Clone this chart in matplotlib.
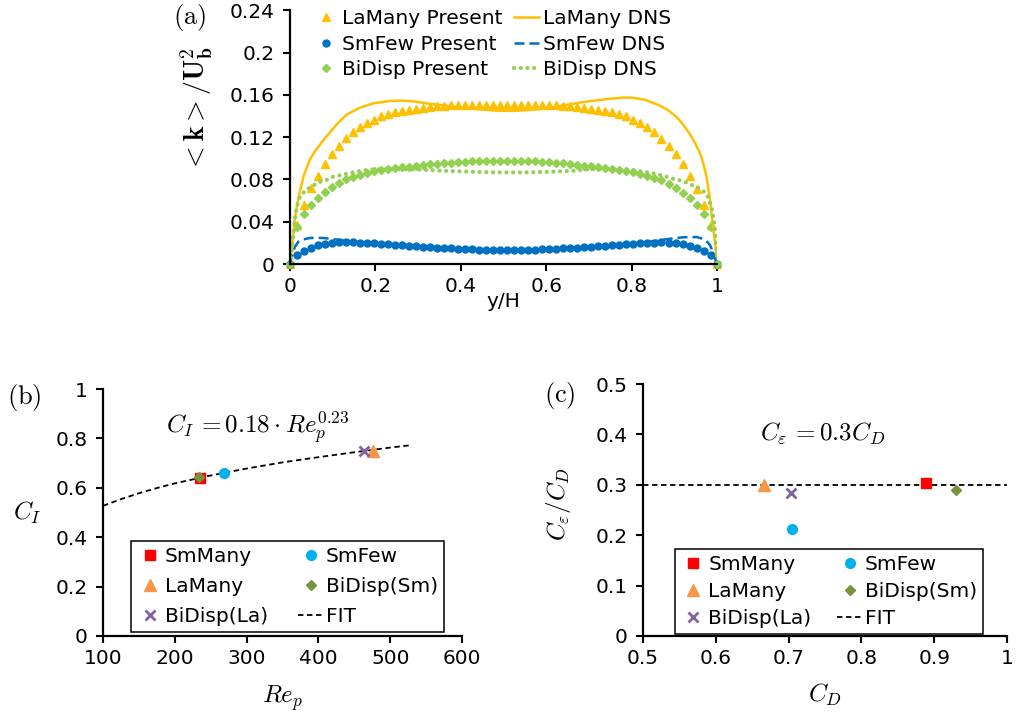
import numpy as np
import matplotlib
matplotlib.use('Agg')
import matplotlib.pyplot as plt
from matplotlib.ticker import FuncFormatter

plt.rcParams['font.family'] = ['DejaVu Sans']
plt.rcParams['mathtext.fontset'] = 'cm'
plt.rcParams['font.size'] = 14.5

# ---- (a) profiles of <k>/Ub^2 across the channel ----
# present model: wall points plus 60 interior cells
yh_present = np.concatenate(([0.0], np.linspace(0.0156, 0.9844, 60), [1.0]))
k_lamany = [0,
            0.037, 0.056, 0.0715, 0.0835, 0.0945, 0.104, 0.1118, 0.1188, 0.1245, 0.1292,
            0.1336, 0.1367, 0.1399, 0.1424, 0.144, 0.1452, 0.146, 0.1471, 0.148, 0.149,
            0.1495, 0.1498, 0.15, 0.15, 0.15, 0.15, 0.15, 0.15, 0.15, 0.15,
            0.15, 0.15, 0.15, 0.15, 0.15, 0.15, 0.15, 0.15, 0.1498, 0.1495,
            0.149, 0.148, 0.1471, 0.146, 0.1452, 0.1437, 0.1415, 0.1396, 0.1367, 0.1336,
            0.1295, 0.1245, 0.1185, 0.1118, 0.104, 0.0945, 0.083, 0.0712, 0.0563, 0.037,
            0]
k_smfew = [0,
           0.009, 0.0125, 0.0155, 0.0178, 0.0193, 0.0202, 0.0207, 0.0208, 0.0206, 0.0203,
           0.0199, 0.0195, 0.019, 0.0186, 0.0181, 0.0176, 0.0172, 0.0168, 0.0164, 0.016,
           0.0156, 0.0152, 0.0148, 0.0145, 0.0142, 0.0139, 0.0136, 0.0134, 0.0133, 0.0132,
           0.0132, 0.0132, 0.0133, 0.0134, 0.0136, 0.0139, 0.0142, 0.0145, 0.0148, 0.0152,
           0.0156, 0.016, 0.0165, 0.017, 0.0175, 0.018, 0.0183, 0.0186, 0.0192, 0.0195,
           0.0198, 0.0202, 0.0205, 0.0202, 0.0195, 0.0186, 0.017, 0.0148, 0.012, 0.0082,
           0]
k_bidisp = [0,
            0.0353, 0.047, 0.0558, 0.0627, 0.0684, 0.0731, 0.0762, 0.080, 0.0819, 0.0844,
            0.086, 0.0879, 0.0888, 0.0901, 0.0908, 0.0914, 0.0922, 0.093, 0.0938, 0.0945,
            0.095, 0.0955, 0.096, 0.0964, 0.0967, 0.097, 0.0972, 0.0975, 0.0976, 0.0977,
            0.0977, 0.0977, 0.0976, 0.0974, 0.0971, 0.0967, 0.0964, 0.0958, 0.0952, 0.0945,
            0.0939, 0.0932, 0.0926, 0.0917, 0.0907, 0.090, 0.0893, 0.0882, 0.0873, 0.085,
            0.0835, 0.0816, 0.0794, 0.0758, 0.0721, 0.0674, 0.0627, 0.0554, 0.047, 0.0353,
            0]

# DNS reference curves
yh_dns_la = [0, 0.003, 0.006, 0.012, 0.02, 0.031, 0.039, 0.047, 0.054, 0.062,
             0.074, 0.086, 0.109, 0.133, 0.164, 0.195, 0.234, 0.26, 0.29, 0.32,
             0.36, 0.40, 0.44, 0.48, 0.52, 0.56, 0.60, 0.64, 0.69, 0.74,
             0.78, 0.80, 0.83, 0.865, 0.885, 0.905, 0.92, 0.935, 0.948, 0.96,
             0.968, 0.975, 0.983, 0.991, 0.997, 1.0]
k_dns_la = [0, 0.010, 0.022, 0.045, 0.063, 0.082, 0.091, 0.099, 0.104, 0.1085,
            0.115, 0.121, 0.132, 0.1415, 0.148, 0.152, 0.1543, 0.1546, 0.1538, 0.152,
            0.150, 0.148, 0.1465, 0.1452, 0.1448, 0.1458, 0.1472, 0.1502, 0.1534, 0.156,
            0.1575, 0.1574, 0.1555, 0.150, 0.1455, 0.139, 0.132, 0.1235, 0.1145, 0.1046,
            0.094, 0.0825, 0.0605, 0.032, 0.013, 0]
yh_dns_sm = [0, 0.004, 0.0117, 0.0195, 0.031, 0.047, 0.062, 0.078, 0.10, 0.13,
             0.17, 0.22, 0.30, 0.40, 0.50, 0.60, 0.70, 0.78, 0.83, 0.858,
             0.889, 0.92, 0.952, 0.971, 0.983, 0.991, 0.997, 1.0]
k_dns_sm = [0, 0.0069, 0.0164, 0.021, 0.0233, 0.0246, 0.0249, 0.0246, 0.0236, 0.0221,
            0.0205, 0.019, 0.0165, 0.014, 0.013, 0.0135, 0.0155, 0.018, 0.0205, 0.022,
            0.0239, 0.0253, 0.0255, 0.0233, 0.018, 0.0101, 0.0025, 0]
yh_dns_bi = [0, 0.004, 0.008, 0.0117, 0.0156, 0.0234, 0.037, 0.052, 0.068, 0.085,
             0.10, 0.12, 0.136, 0.154, 0.171, 0.19, 0.21, 0.25, 0.30, 0.36,
             0.43, 0.50, 0.55, 0.605, 0.66, 0.706, 0.753, 0.80, 0.84, 0.875,
             0.893, 0.911, 0.929, 0.946, 0.961, 0.975, 0.981, 0.987, 0.99, 0.993,
             0.995, 0.997, 0.998, 1.0]
k_dns_bi = [0, 0.012, 0.028, 0.043, 0.054, 0.0636, 0.070, 0.0737, 0.0775, 0.0794,
            0.0825, 0.0841, 0.0857, 0.0872, 0.0886, 0.0893, 0.0897, 0.0898, 0.0894, 0.0882,
            0.0872, 0.0866, 0.0867, 0.0872, 0.0882, 0.0898, 0.0905, 0.089, 0.0865, 0.0835,
            0.081, 0.0794, 0.0769, 0.0737, 0.0712, 0.0662, 0.0605, 0.0526, 0.0454, 0.0384,
            0.0306, 0.0227, 0.0164, 0]

# ---- (b), (c) coefficients per case ----
cases = ['SmMany', 'SmFew', 'LaMany', 'BiDisp(Sm)', 'BiDisp(La)']
re_p = [235, 268, 476, 233, 463]
c_i = [0.638, 0.661, 0.748, 0.642, 0.750]
c_d = [0.889, 0.705, 0.666, 0.93, 0.703]
ce_over_cd = [0.303, 0.213, 0.30, 0.29, 0.284]

fit_re = [100, 125, 150, 175, 200, 250, 300, 350, 400, 450, 500, 530]
fit_ci = [0.527, 0.554, 0.578, 0.599, 0.618, 0.650, 0.678, 0.703, 0.724, 0.744, 0.763, 0.773]
fit_cd = [0.5, 1.0]
fit_ratio = [0.3, 0.3]

YELLOW, BLUE, GREEN = '#FFC000', '#0070C0', '#92D050'
case_style = {
    'SmMany': dict(marker='s', color='#FF0000', ms=7),
    'SmFew': dict(marker='o', color='#00B0F0', ms=7),
    'LaMany': dict(marker='^', color='#F79646', ms=8),
    'BiDisp(Sm)': dict(marker='D', color='#77933C', ms=5.5),
    'BiDisp(La)': dict(marker='x', color='#8064A2', ms=7, mew=2),
}

fmt = FuncFormatter(lambda v, p: '%g' % v)


def style(ax):
    for s in ['top', 'right']:
        ax.spines[s].set_visible(False)
    for s in ['left', 'bottom']:
        ax.spines[s].set_linewidth(1.6)
    ax.tick_params(direction='out', length=5, width=1.5, labelsize=14.5)
    ax.tick_params(axis='x', pad=4.5)
    ax.tick_params(axis='y', pad=6)
    ax.xaxis.set_major_formatter(fmt)
    ax.yaxis.set_major_formatter(fmt)


fig = plt.figure(figsize=(10.2, 7.13), dpi=100)

# panel (a)
ax = fig.add_axes([0.2843, 0.6297, 0.4189, 0.3558])
style(ax)
h1, = ax.plot(yh_present, k_lamany, '^', color=YELLOW, ms=6, clip_on=False)
h2, = ax.plot(yh_present, k_smfew, 'o', color=BLUE, ms=5, clip_on=False)
h3, = ax.plot(yh_present, k_bidisp, 'D', color=GREEN, ms=4.5, clip_on=False)
h4, = ax.plot(yh_dns_la, k_dns_la, '-', color=YELLOW, lw=1.8)
h5, = ax.plot(yh_dns_sm, k_dns_sm, color=BLUE, lw=1.8, ls=(0, (4, 2)))
h6, = ax.plot(yh_dns_bi, k_dns_bi, color=GREEN, lw=3, ls=(0, (0.01, 1.6)),
              dash_capstyle='round')
ax.set_xlim(0, 1)
ax.set_ylim(0, 0.24)
ax.set_xticks([0, 0.2, 0.4, 0.6, 0.8, 1])
ax.set_yticks([0, 0.04, 0.08, 0.12, 0.16, 0.2, 0.24])
ax.set_xlabel('y/H', fontsize=14.5, labelpad=-3)
ax.set_ylabel(r'$<\mathbf{k}>/\mathbf{U_b^2}$', fontsize=20)
ax.yaxis.set_label_coords(-0.175, 0.61)
ax.legend([h1, h2, h3, h4, h5, h6],
          ['LaMany Present', 'SmFew Present', 'BiDisp Present',
           'LaMany DNS', 'SmFew DNS', 'BiDisp DNS'],
          ncol=2, loc='upper left', bbox_to_anchor=(0.3074, 0.987),
          bbox_transform=fig.transFigure, frameon=False, fontsize=14.5,
          handlelength=1.25, handletextpad=0.15, columnspacing=0.6,
          labelspacing=0.32, borderpad=0, borderaxespad=0)
fig.text(0.186, 0.976, r'$\mathrm{(a)}$', fontsize=19, ha='center', va='center')


def coef_legend(ax, anchor, fit_handle, colsp, rowsp):
    hs = {}
    for name in cases:
        hs[name], = ax.plot([], [], ls='none', **case_style[name])
    order = ['SmMany', 'LaMany', 'BiDisp(La)', 'SmFew', 'BiDisp(Sm)']
    leg = ax.legend([hs[n] for n in order] + [fit_handle], order + ['FIT'],
                    ncol=2, loc='upper left', bbox_to_anchor=anchor,
                    bbox_transform=fig.transFigure, fontsize=14.5, fancybox=False,
                    edgecolor='black', framealpha=1, handlelength=1.25,
                    handletextpad=0.12, columnspacing=colsp, labelspacing=rowsp,
                    borderpad=0.3, borderaxespad=0)
    leg.get_frame().set_linewidth(1.1)


# panel (b)
axb = fig.add_axes([0.101, 0.108, 0.352, 0.3464])
style(axb)
fit_b, = axb.plot(fit_re, fit_ci, color='black', lw=1.3, ls=(0, (3, 2)))
for i, name in enumerate(cases):
    axb.plot(re_p[i], c_i[i], ls='none', **case_style[name])
axb.set_xlim(100, 600)
axb.set_ylim(0, 1)
axb.set_xticks([100, 200, 300, 400, 500, 600])
axb.set_yticks([0, 0.2, 0.4, 0.6, 0.8, 1])
axb.set_xlabel(r'$Re_p$', fontsize=18, labelpad=10.5)
axb.set_ylabel(r'$C_I$', fontsize=18, rotation=0, ha='center', va='center')
axb.yaxis.set_label_coords(-0.212, 0.5)
axb.text(315, 0.842, r'$C_I\,=0.18\cdot Re_p^{0.23}$', fontsize=18,
         ha='center', va='center')
coef_legend(axb, (0.1289, 0.241), fit_b, 1.5, 0.53)
fig.text(0.0235, 0.442, r'$\mathrm{(b)}$', fontsize=19, ha='center', va='center')

# panel (c)
axc = fig.add_axes([0.6304, 0.108, 0.3569, 0.3534])
style(axc)
fit_c, = axc.plot(fit_cd, fit_ratio, color='black', lw=1.3, ls=(0, (3, 2)))
for i, name in enumerate(cases):
    axc.plot(c_d[i], ce_over_cd[i], ls='none', **case_style[name])
axc.set_xlim(0.5, 1)
axc.set_ylim(0, 0.5)
axc.set_xticks([0.5, 0.6, 0.7, 0.8, 0.9, 1])
axc.set_yticks([0, 0.1, 0.2, 0.3, 0.4, 0.5])
axc.set_xlabel(r'$C_D$', fontsize=18, labelpad=10)
axc.set_ylabel(r'$C_\varepsilon/C_D$', fontsize=18)
axc.yaxis.set_label_coords(-0.192, 0.524)
axc.text(0.747, 0.402, r'$C_\varepsilon\,=0.3C_D$', fontsize=18,
         ha='center', va='center')
coef_legend(axc, (0.6613, 0.230), fit_c, 1.3, 0.40)
fig.text(0.549, 0.446, r'$\mathrm{(c)}$', fontsize=19, ha='center', va='center')

fig.savefig('out.png', dpi=100)
